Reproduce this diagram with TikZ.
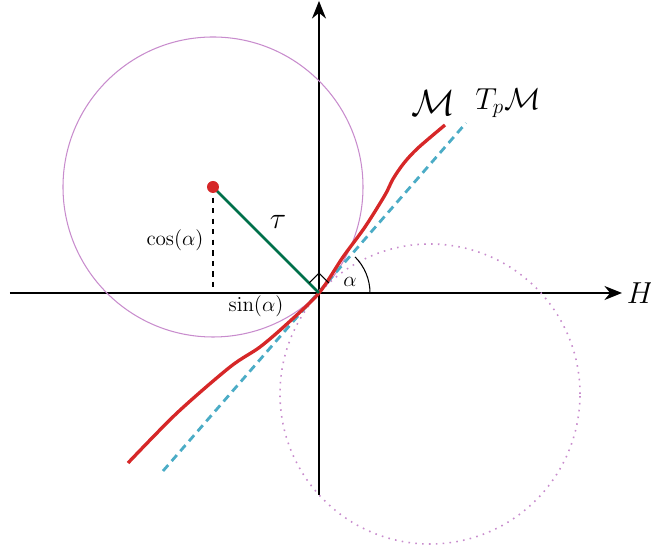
\documentclass[tikz,border=0pt]{standalone}
\usepackage{amsmath, amssymb}
\usepackage{tikz}
\usetikzlibrary{arrows.meta, positioning, calc}
\usepackage[dvipsnames, svgnames]{xcolor}

\definecolor{curvered}{RGB}{214,39,40}
\definecolor{tangentblue}{RGB}{75,172,198}
\definecolor{normalgreen}{RGB}{0,112,74}
\definecolor{circleviolet}{RGB}{200,140,205}

\begin{document}
\begin{tikzpicture}[thick]
    \useasboundingbox (-6.38, -5.18) rectangle (6.64, 5.86);
    \draw[-{Stealth[length=10pt, width=8pt]}] (-6.18, 0) -- (6.06, 0) coordinate (Hend);
    \node[right=-1pt of Hend, font=\LARGE] (H) {$H$};
    \draw[-{Stealth[length=10pt, width=8pt]}] (0, -4.04) -- (0, 5.84);
    
    \coordinate (O) at (0, 0);
    \coordinate (C) at (-2.12, 2.12);
    
    \draw[circleviolet, semithick] (C) circle (3);
    \draw[circleviolet, line width=0.9pt, dash pattern=on 0.9pt off 3pt] (2.22, -2.02) circle (3);
    
    \draw[tangentblue, line width=1.6pt, dash pattern=on 4.5pt off 3pt] (-3.12, -3.56) -- (2.94, 3.40);
    
    \draw[curvered, line width=1.9pt] plot[smooth, tension=0.5] coordinates {(-3.82, -3.40) (-2.84, -2.40) (-1.78, -1.48) (-1.18, -1.08) (-0.62, -0.60) (0, 0) (0.48, 0.72) (0.92, 1.32) (1.32, 1.96) (1.48, 2.28) (1.70, 2.60) (1.98, 2.90) (2.52, 3.36)};
    
    \draw[dashed, semithick] (C) -- (C |- O);
    \draw[normalgreen, line width=1.5pt] (C) -- (O);
    \fill[curvered] (C) circle (0.12);
    
    \draw[semithick] (135:0.28) -- ($(135:0.28)+(45:0.28)$) -- (45:0.28);
    \draw[semithick] (1.02, 0) arc (0:45:1.02);
    
    \node (tau) at (-0.82, 1.42) {\LARGE $\tau$};
    \node (cos) at (-2.88, 1.06) {\large $\cos(\alpha)$};
    \node (sin) at (-1.26, -0.26) {\large $\sin(\alpha)$};
    \node (alpha) at (0.62, 0.22) {\large $\alpha$};
    \node (M) at (2.28, 3.80) {\huge $\mathcal{M}$};
    \node (TpM) at (3.78, 3.80) {\LARGE $T_p\mathcal{M}$};
\end{tikzpicture}
\end{document}
